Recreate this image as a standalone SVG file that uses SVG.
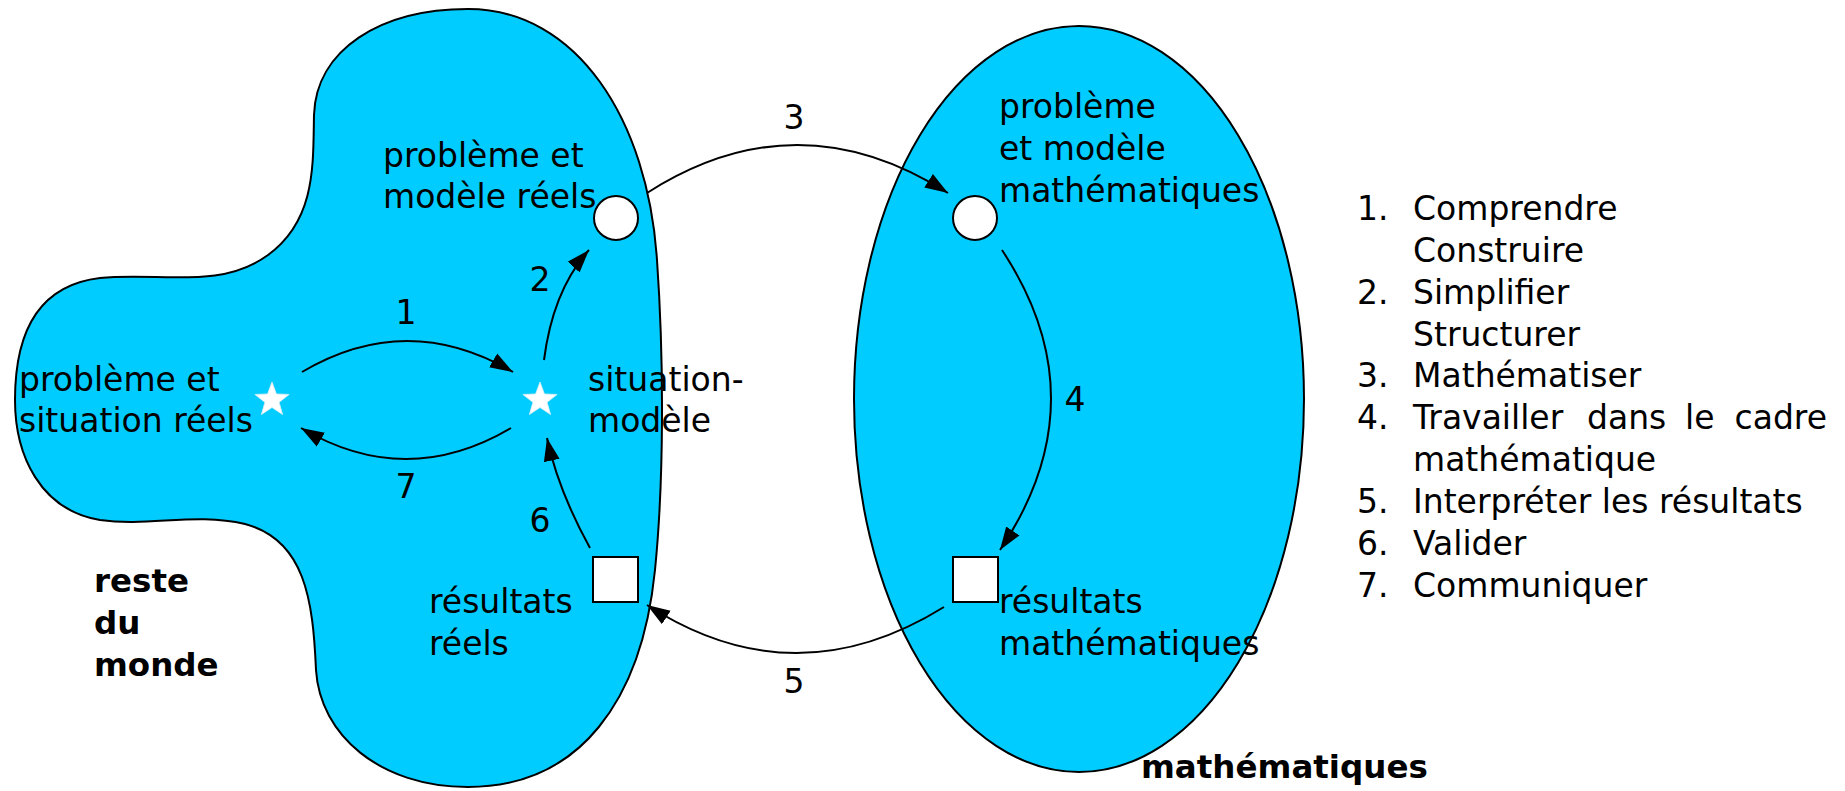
<svg xmlns="http://www.w3.org/2000/svg" width="1845" height="791" viewBox="0 0 1845 791">
<style>
.region{fill:#00ccff;stroke:#000;stroke-width:2}
.node{fill:#fff;stroke:#000;stroke-width:2}
.star{fill:#fff;stroke:#d8eef5;stroke-width:0.8}
.conn{fill:none;stroke:#000;stroke-width:2;marker-end:url(#ah)}
text{font-family:"DejaVu Sans","Liberation Sans",sans-serif;font-size:33px;fill:#000}
.bold{font-weight:bold;font-size:32.5px}
.num{text-anchor:middle}
</style>
<defs>
<marker id="ah" markerUnits="userSpaceOnUse" markerWidth="24" markerHeight="18" refX="23" refY="9" orient="auto">
<path d="M0,1 L23,9 L0,17 Z" fill="#000"/>
</marker>
<polygon id="starshape" points="0,-18 4.41,-6.07 17.12,-5.56 7.13,2.32 10.58,14.56 0,7.5 -10.58,14.56 -7.13,2.32 -17.12,-5.56 -4.41,-6.07"/>
</defs>
<g id="reste-du-monde">
<path class="region" d="M 468 9 C 577 9 648 120 657 260 C 664 360 664 480 655 570 C 642 700 580 787 468 787 C 380 787 320 735 316 670 C 313 600 305 540 245 524 C 195 512 150 527 100 520 C 40 510 15 455 15 400 C 15 330 40 285 100 278 C 160 272 220 290 268 255 C 316 220 313 165 314 115 C 316 50 380 9 468 9 Z"/>
<text class="bold" x="94" y="592">reste</text>
<text class="bold" x="94" y="634">du</text>
<text class="bold" x="94" y="676">monde</text>
</g>
<g id="mathematiques">
<ellipse class="region" cx="1079" cy="399" rx="225" ry="373"/>
<text class="bold" x="1141" y="778">mathématiques</text>
</g>
<g id="connectors">
<path class="conn" d="M 302 372 Q 407 310 513 372"/>
<path class="conn" d="M 511 428 Q 406 490 301 428"/>
<path class="conn" d="M 544 360 Q 553 290 589 250"/>
<path class="conn" d="M 590 548 Q 558 490 547 438"/>
<path class="conn" d="M 647 193 Q 797 97 948 193"/>
<path class="conn" d="M 1002 250 Q 1101 400 1000 550"/>
<path class="conn" d="M 944 607 Q 794 700 647 605"/>
<text class="num" x="406" y="324">1</text>
<text class="num" x="540" y="291">2</text>
<text class="num" x="794" y="129">3</text>
<text class="num" x="1075" y="411">4</text>
<text class="num" x="794" y="693">5</text>
<text class="num" x="540" y="532">6</text>
<text class="num" x="406" y="498">7</text>
</g>
<g id="probleme-situation-reels">
<use href="#starshape" class="star" x="272" y="400"/>
<text x="19" y="391">problème et</text>
<text x="19" y="432">situation réels</text>
</g>
<g id="situation-modele">
<use href="#starshape" class="star" x="540" y="400"/>
<text x="588" y="391">situation-</text>
<text x="588" y="432">modèle</text>
</g>
<g id="probleme-modele-reels">
<circle class="node" cx="616" cy="218" r="22"/>
<text x="383" y="167">problème et</text>
<text x="383" y="208">modèle réels</text>
</g>
<g id="resultats-reels">
<rect class="node" x="593" y="557" width="45" height="45"/>
<text x="429" y="613">résultats</text>
<text x="429" y="655">réels</text>
</g>
<g id="probleme-modele-math">
<circle class="node" cx="975" cy="218" r="22"/>
<text x="999" y="118">problème</text>
<text x="999" y="160">et modèle</text>
<text x="999" y="202">mathématiques</text>
</g>
<g id="resultats-math">
<rect class="node" x="953" y="557" width="45" height="45"/>
<text x="999" y="613">résultats</text>
<text x="999" y="655">mathématiques</text>
</g>
<g id="legend">
<text x="1357" y="220">1.</text><text x="1413" y="220">Comprendre</text>
<text x="1413" y="262">Construire</text>
<text x="1357" y="304">2.</text><text x="1413" y="304">Simplifier</text>
<text x="1413" y="346">Structurer</text>
<text x="1357" y="387">3.</text><text x="1413" y="387">Mathématiser</text>
<text x="1357" y="429">4.</text><text x="1413" y="429">Travailler</text><text x="1587" y="429">dans</text><text x="1685" y="429">le</text><text x="1827" y="429" text-anchor="end">cadre</text>
<text x="1413" y="471">mathématique</text>
<text x="1357" y="513">5.</text><text x="1413" y="513">Interpréter les résultats</text>
<text x="1357" y="555">6.</text><text x="1413" y="555">Valider</text>
<text x="1357" y="597">7.</text><text x="1413" y="597">Communiquer</text>
</g>
</svg>
